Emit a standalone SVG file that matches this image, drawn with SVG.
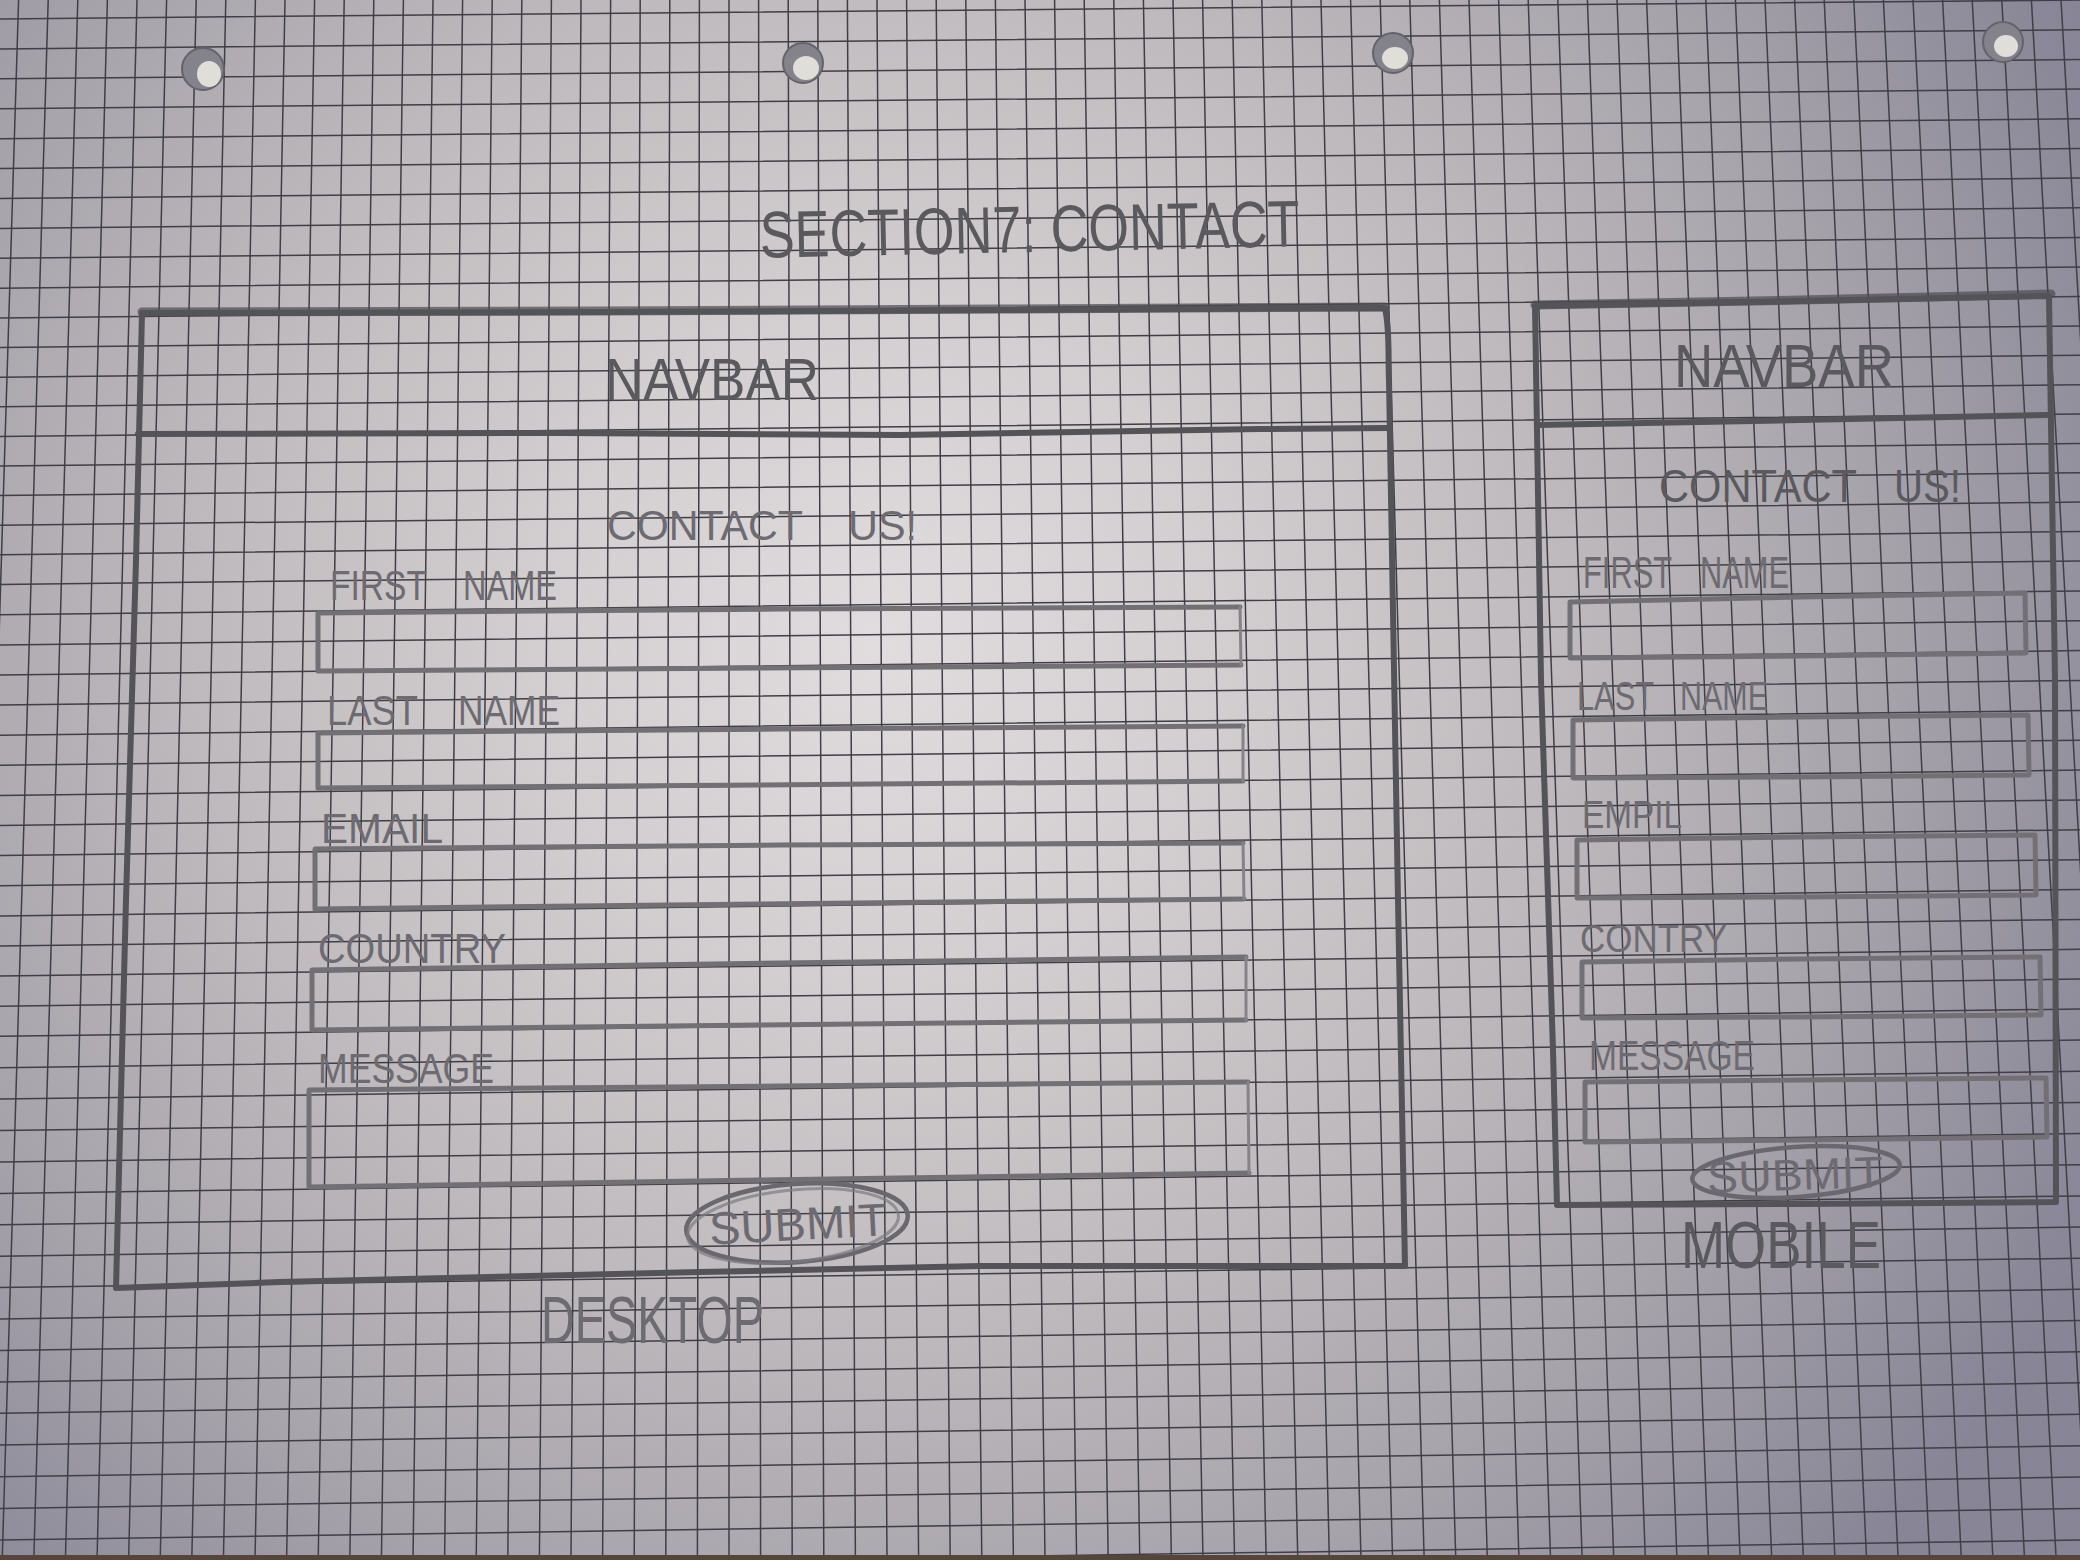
<svg xmlns="http://www.w3.org/2000/svg" width="2080" height="1560" viewBox="0 0 2080 1560">
  <defs>
    <radialGradient id="paper" cx="880" cy="640" r="1350" gradientUnits="userSpaceOnUse">
      <stop offset="0" stop-color="#e1dcdd"/>
      <stop offset="0.25" stop-color="#d3cecf"/>
      <stop offset="0.5" stop-color="#bfbabd"/>
      <stop offset="0.75" stop-color="#a5a2aa"/>
      <stop offset="1" stop-color="#878596"/>
    </radialGradient>
    <style>
      .grid { fill: none; stroke: #403e46; stroke-width: 1.5; }
      .frame { fill: none; stroke: #545358; stroke-width: 6; stroke-linecap: round; stroke-linejoin: round; }
      .heavy { fill: none; stroke: #4d4c51; stroke-width: 9; stroke-linecap: round; opacity: 0.7; }
      .field { fill: none; stroke: #727075; stroke-width: 5; stroke-linecap: round; stroke-linejoin: round; }
      .field-edge { fill: none; stroke: #858389; stroke-width: 3; stroke-linecap: round; }
      .btn { fill: none; stroke: #6a686e; stroke-width: 4.5; }
      .btn2 { fill: none; stroke: #7c7a80; stroke-width: 3; opacity: 0.7; }
      .hand { font-family: "Liberation Sans Narrow", "Liberation Sans", Arial, sans-serif; fill: #5a595e; }
      .label { fill: #6d6b71; }
      .hole-ring { fill: #84828a; stroke: #64626a; stroke-width: 2; }
      .hole-core { fill: #e0ded8; }
    </style>
  </defs>

  <!-- sheet of squared paper -->
  <rect x="0" y="0" width="2080" height="1560" fill="url(#paper)"/>
  <g id="grid">
    <path class="grid" d="M-11,0L-61,1560 M18.6,0L-29.4,1560 M48.2,0L2.2,1560 M77.8,0L33.8,1560 M107.4,0L65.4,1560 M137,0L97,1560 M166.6,0L128.6,1560 M196.2,0L160.2,1560 M225.8,0L191.8,1560 M255.4,0L223.4,1560 M285,0L255,1560 M314.6,0L286.6,1560 M344.2,0L318.2,1560 M373.8,0L349.8,1560 M403.4,0L381.4,1560 M433,0L413,1560 M462.6,0L444.6,1560 M492.2,0L476.2,1560 M521.8,0L507.8,1560 M551.4,0L539.4,1560 M581,0L571,1560 M610.6,0L602.6,1560 M640.2,0L634.2,1560 M669.8,0L665.8,1560 M699.4,0L697.4,1560 M729,0L729,1560 M758.6,0L760.6,1560 M788.2,0L792.2,1560 M817.8,0L823.8,1560 M847.4,0L855.4,1560 M877,0L887,1560 M906.6,0L918.6,1560 M936.2,0L950.2,1560 M965.8,0L981.8,1560 M995.4,0L1013.4,1560 M1025,0L1045,1560 M1054.6,0L1076.6,1560 M1084.2,0L1108.2,1560 M1113.8,0L1139.8,1560 M1143.4,0L1171.4,1560 M1173,0L1203,1560 M1202.6,0L1234.6,1560 M1232.2,0L1266.2,1560 M1261.8,0L1297.8,1560 M1291.4,0L1329.4,1560 M1321,0L1361,1560 M1350.6,0L1392.6,1560 M1380.2,0L1424.2,1560 M1409.8,0L1455.8,1560 M1439.4,0L1487.4,1560 M1469,0L1519,1560 M1498.6,0L1550.6,1560 M1528.2,0L1582.2,1560 M1557.8,0L1613.8,1560 M1587.4,0L1645.4,1560 M1617,0L1677,1560 M1646.6,0L1708.6,1560 M1676.2,0L1740.2,1560 M1705.8,0L1771.8,1560 M1735.4,0L1803.4,1560 M1765,0L1835,1560 M1794.6,0L1866.6,1560 M1824.2,0L1898.2,1560 M1853.8,0L1929.8,1560 M1883.4,0L1961.4,1560 M1913,0L1993,1560 M1942.6,0L2024.6,1560 M1972.2,0L2056.2,1560 M2001.8,0L2087.8,1560 M2031.4,0L2119.4,1560 M2061,0L2151,1560"/>
    <path class="grid" d="M0,18.9L2080,0 M0,48.9L2080,29.8 M0,78.8L2080,59.5 M0,108.7L2080,89.1 M0,138.7L2080,118.8 M0,168.6L2080,148.5 M0,198.5L2080,178.1 M0,228.4L2080,207.8 M0,258.3L2080,237.4 M0,288.2L2080,267.1 M0,317.9L2080,296.6 M0,347.5L2080,325.9 M0,377.2L2080,355.3 M0,406.8L2080,384.7 M0,436.4L2080,414 M0,466L2080,443.4 M0,495.6L2080,472.8 M0,525.2L2080,502.1 M0,554.8L2080,531.5 M0,584.4L2080,560.9 M0,614.7L2080,590.9 M0,644.9L2080,620.8 M0,675L2080,650.6 M0,705.1L2080,680.5 M0,735.2L2080,710.4 M0,765.3L2080,740.2 M0,795.4L2080,770.1 M0,825.5L2080,799.9 M0,855.6L2080,829.8 M0,885.8L2080,859.7 M0,915.9L2080,889.5 M0,946L2080,919.4 M0,976.1L2080,949.3 M0,1006.2L2080,979.1 M0,1036.3L2080,1009 M0,1067.7L2080,1040.1 M0,1099.1L2080,1071.3 M0,1130.6L2080,1102.4 M0,1162L2080,1133.6 M0,1193.4L2080,1164.7 M0,1224.8L2080,1195.9 M0,1256.2L2080,1227 M0,1287.6L2080,1258.2 M0,1319L2080,1289.3 M0,1350.4L2080,1320.5 M0,1381.9L2080,1351.7 M0,1413.3L2080,1382.8 M0,1445L2080,1414.3 M0,1476.7L2080,1445.7 M0,1508.4L2080,1477.1 M0,1540.1L2080,1508.6 M0,1571.8L2080,1540"/>
  </g>

  <!-- punched holes along the top edge -->
  <g id="holes">
    <circle class="hole-ring" cx="203" cy="69" r="21"/><ellipse class="hole-core" cx="209" cy="74" rx="12" ry="13"/>
    <circle class="hole-ring" cx="803" cy="63" r="20"/><ellipse class="hole-core" cx="806" cy="68" rx="13" ry="12"/>
    <circle class="hole-ring" cx="1393" cy="53" r="20"/><ellipse class="hole-core" cx="1395" cy="58" rx="13" ry="11"/>
    <circle class="hole-ring" cx="2003" cy="42" r="20"/><ellipse class="hole-core" cx="2006" cy="46" rx="12" ry="11"/>
  </g>

  <!-- table edge below the sheet -->
  <rect x="0" y="1555" width="2080" height="5" fill="#55453a"/>

  <!-- heading -->
  <g id="title">
    <text class="hand" x="760" y="252" font-size="66" textLength="540" lengthAdjust="spacingAndGlyphs" transform="rotate(-1.2 1030 245)">SECTION7: CONTACT</text>
  </g>

  <!-- desktop layout -->
  <g id="desktop">
    <g id="desktop-frame">
      <path class="heavy" d="M142,312 L600,311 L1000,309 L1385,307"/>
      <path class="frame" d="M142,313 L600,312 L1000,310 L1385,308 C1390,330 1388,360 1389,380 L1398,900 L1405,1266 L980,1266 L700,1272 L280,1282 L116,1288 L126,900 L136,560 Z"/>
    </g>
    <g id="desktop-navbar">
      <path class="frame" d="M138,434 L560,433 L900,435 L1260,429 L1387,428"/>
      <text class="hand" x="605" y="400" font-size="60" textLength="214" lengthAdjust="spacingAndGlyphs">NAVBAR</text>
    </g>
    <g id="desktop-heading">
      <text class="hand label" y="540" font-size="42"><tspan x="607" textLength="196" lengthAdjust="spacingAndGlyphs">CONTACT</tspan><tspan x="848" textLength="69" lengthAdjust="spacingAndGlyphs">US!</tspan></text>
    </g>
    <g id="desktop-first-name">
      <text class="hand label" y="600" font-size="42"><tspan x="330" textLength="97" lengthAdjust="spacingAndGlyphs">FIRST</tspan><tspan x="463" textLength="94" lengthAdjust="spacingAndGlyphs">NAME</tspan></text>
      <path class="field" d="M1240,607 L780,609 L318,613 L318,671 L760,668 L1241,665"/>
      <path class="field-edge" d="M1240,607 L1241,665"/>
    </g>
    <g id="desktop-last-name">
      <text class="hand label" y="725" font-size="42"><tspan x="327" textLength="91" lengthAdjust="spacingAndGlyphs">LAST</tspan><tspan x="458" textLength="102" lengthAdjust="spacingAndGlyphs">NAME</tspan></text>
      <path class="field" d="M1243,726 L780,729 L318,733 L318,788 L760,785 L1243,781"/>
      <path class="field-edge" d="M1243,726 L1243,781"/>
    </g>
    <g id="desktop-email">
      <text class="hand label" x="321" y="843" font-size="42" textLength="122" lengthAdjust="spacingAndGlyphs">EMAIL</text>
      <path class="field" d="M1243,843 L780,845 L315,849 L315,909 L760,904 L1244,899"/>
      <path class="field-edge" d="M1243,843 L1244,899"/>
    </g>
    <g id="desktop-country">
      <text class="hand label" x="318" y="963" font-size="42" textLength="188" lengthAdjust="spacingAndGlyphs">COUNTRY</text>
      <path class="field" d="M1246,957 L780,963 L312,970 L312,1030 L760,1025 L1246,1020"/>
      <path class="field-edge" d="M1246,957 L1246,1020"/>
    </g>
    <g id="desktop-message">
      <text class="hand label" x="318" y="1083" font-size="42" textLength="176" lengthAdjust="spacingAndGlyphs">MESSAGE</text>
      <path class="field" d="M1248,1082 L780,1086 L309,1090 L309,1187 L760,1180 L1249,1173"/>
      <path class="field-edge" d="M1248,1082 L1249,1173"/>
    </g>
    <g id="desktop-submit">
      <ellipse class="btn" cx="797" cy="1223" rx="111" ry="39" transform="rotate(-4 797 1223)"/>
      <ellipse class="btn2" cx="793" cy="1226" rx="106" ry="36" transform="rotate(-6 793 1226)"/>
      <text class="hand label" x="709" y="1240" font-size="46" textLength="178" lengthAdjust="spacingAndGlyphs" transform="rotate(-3 798 1224)">SUBMIT</text>
    </g>
    <text id="desktop-caption" class="hand label" x="541" y="1343" font-size="66" textLength="223" lengthAdjust="spacingAndGlyphs">DESKTOP</text>
  </g>

  <!-- mobile layout -->
  <g id="mobile">
    <g id="mobile-frame">
      <path class="heavy" d="M1535,305 L1800,300 L2051,294"/>
      <path class="frame" d="M1535,306 L1800,301 L2049,296 L2055,680 L2056,1202 L1800,1204 L1557,1205 L1553,1050 L1541,680 Z"/>
    </g>
    <g id="mobile-navbar">
      <path class="frame" d="M1537,425 L1800,420 L2047,415"/>
      <text class="hand" x="1674" y="387" font-size="62" textLength="220" lengthAdjust="spacingAndGlyphs">NAVBAR</text>
    </g>
    <g id="mobile-heading">
      <text class="hand" y="502" font-size="46"><tspan x="1659" textLength="198" lengthAdjust="spacingAndGlyphs">CONTACT</tspan><tspan x="1894" textLength="67" lengthAdjust="spacingAndGlyphs">US!</tspan></text>
    </g>
    <g id="mobile-first-name">
      <text class="hand label" y="588" font-size="44"><tspan x="1583" textLength="89" lengthAdjust="spacingAndGlyphs">FIRST</tspan><tspan x="1700" textLength="89" lengthAdjust="spacingAndGlyphs">NAME</tspan></text>
      <path class="field" d="M1570,602 L1800,597 L2025,593 L2026,653 L1800,656 L1570,658 Z"/>
    </g>
    <g id="mobile-last-name">
      <text class="hand label" y="710" font-size="40"><tspan x="1577" textLength="77" lengthAdjust="spacingAndGlyphs">LAST</tspan><tspan x="1680" textLength="88" lengthAdjust="spacingAndGlyphs">NAME</tspan></text>
      <path class="field" d="M1573,720 L1800,717 L2028,715 L2029,775 L1800,777 L1573,778 Z"/>
    </g>
    <g id="mobile-email">
      <text class="hand label" x="1582" y="828" font-size="38" textLength="100" lengthAdjust="spacingAndGlyphs">EMPIL</text>
      <path class="field" d="M1577,840 L1800,837 L2035,835 L2036,895 L1800,897 L1577,898 Z"/>
    </g>
    <g id="mobile-country">
      <text class="hand label" x="1580" y="952" font-size="38" textLength="147" lengthAdjust="spacingAndGlyphs">CONTRY</text>
      <path class="field" d="M1582,962 L1800,959 L2040,957 L2041,1015 L1800,1017 L1582,1018 Z"/>
    </g>
    <g id="mobile-message">
      <text class="hand label" x="1589" y="1070" font-size="42" textLength="166" lengthAdjust="spacingAndGlyphs">MESSAGE</text>
      <path class="field" d="M1585,1082 L1800,1080 L2046,1078 L2047,1137 L1800,1140 L1585,1142 Z"/>
    </g>
    <g id="mobile-submit">
      <ellipse class="btn" cx="1796" cy="1172" rx="104" ry="25" transform="rotate(-4 1796 1172)"/>
      <text class="hand label" x="1707" y="1190" font-size="44" textLength="176" lengthAdjust="spacingAndGlyphs" transform="rotate(-2 1795 1174)">SUBMIT</text>
    </g>
    <text id="mobile-caption" class="hand" x="1681" y="1268" font-size="66" textLength="200" lengthAdjust="spacingAndGlyphs">MOBILE</text>
  </g>
</svg>
